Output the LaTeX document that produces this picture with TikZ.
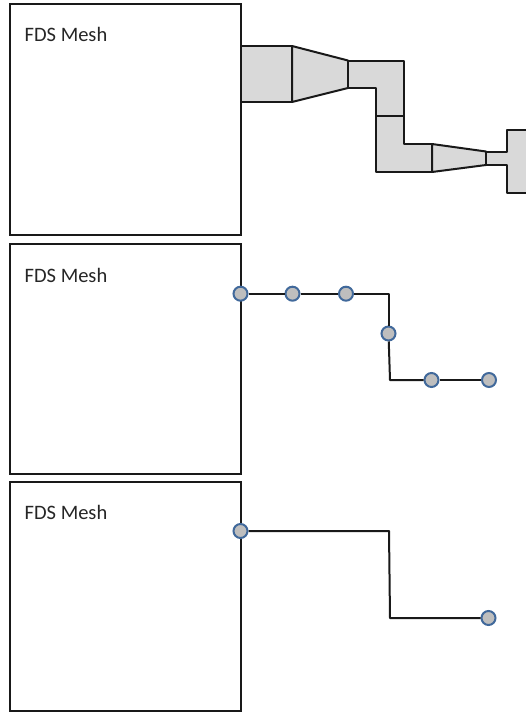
\documentclass[tikz,border=0pt]{standalone}
\usepackage{fontspec}
\setmainfont{Carlito}
\definecolor{ductfill}{RGB}{217,217,217}
\definecolor{dotfill}{RGB}{190,190,190}
\definecolor{dotline}{RGB}{65,105,155}
\definecolor{lineblack}{RGB}{25,25,25}
\tikzset{
  meshbox/.style={draw=lineblack,line width=2pt,fill=white},
  meshlabel/.style={anchor=west,inner sep=0pt,font=\fontsize{20.5pt}{23pt}\selectfont,text=black!85},
  duct/.style={draw=lineblack,line width=2pt,fill=ductfill,line join=round},
  wire/.style={draw=lineblack,line width=2pt,line join=round},
  dotnode/.style={circle,draw=dotline,fill=dotfill,line width=2pt,minimum size=14pt,inner sep=0pt}
}
\begin{document}
\begin{tikzpicture}[x=1pt,y=-1pt]
\useasboundingbox (0,0) rectangle (526,712);
\clip (0,0) rectangle (526,712);
% mesh boxes
\draw[meshbox] (9.5,4) rectangle (241,235);
\draw[meshbox] (9.5,244) rectangle (241,474);
\draw[meshbox] (9.5,482) rectangle (241,711);
\node[meshlabel] (l1) at (24.5,34.5) {FDS Mesh};
\node[meshlabel] (l2) at (24.5,275.5) {FDS Mesh};
\node[meshlabel] (l3) at (24.5,512.5) {FDS Mesh};
% duct segments
\draw[duct] (241,46) -- (292,46) -- (292,102) -- (241,102) -- cycle;
\draw[duct] (292,46) -- (348,60.5) -- (348,88) -- (292,102) -- cycle;
\draw[duct] (348,60.5) -- (404,60.5) -- (404,116) -- (376,116) -- (376,88) -- (348,88) -- cycle;
\draw[duct] (376,116) -- (404,116) -- (404,144) -- (432,144) -- (432,172) -- (376,172) -- cycle;
\draw[duct] (432,144) -- (486,151.5) -- (486,165) -- (432,172) -- cycle;
\draw[duct] (486,151.5) -- (507,151.5) -- (507,130) -- (530,130) -- (530,193) -- (507,193) -- (507,165) -- (486,165) -- cycle;
% network 2
\node[dotnode] (a1) at (240.5,293.7) {};
\node[dotnode] (a2) at (292.5,293.7) {};
\node[dotnode] (a3) at (346,293.7) {};
\coordinate (ac1) at (388.5,293.7);
\node[dotnode] (a4) at (388.5,333.5) {};
\coordinate (ac2) at (390,380);
\node[dotnode] (a5) at (431.5,380) {};
\node[dotnode] (a6) at (489,380) {};
\draw[wire] (a1) -- (a2);
\draw[wire] (a2) -- (a3);
\draw[wire] (a3) -- (ac1) -- (a4);
\draw[wire] (a4) -- (ac2) -- (a5);
\draw[wire] (a5) -- (a6);
% network 3
\node[dotnode] (b1) at (240.5,531) {};
\node[dotnode] (b2) at (488.5,618) {};
\coordinate (bc1) at (389,531);
\coordinate (bc2) at (390,618);
\draw[wire] (b1) -- (bc1) -- (bc2) -- (b2);
\end{tikzpicture}
\end{document}
